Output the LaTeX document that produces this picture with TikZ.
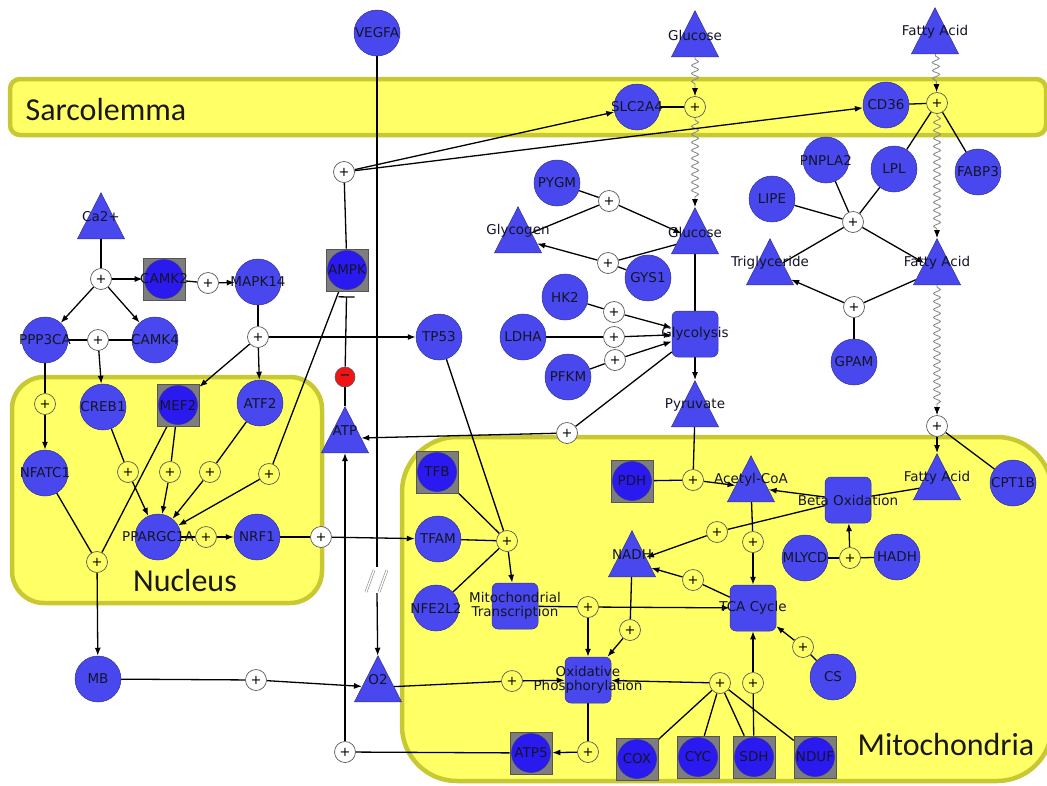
\documentclass[tikz,border=0pt]{standalone}
\usepackage{fontspec}
\setmainfont{DejaVu Sans}
\newfontfamily\compfont{Carlito}
\usetikzlibrary{arrows.meta,shapes.geometric,decorations.pathmorphing}
\pgfdeclarelayer{compartments}
\pgfdeclarelayer{links}
\pgfsetlayers{compartments,links,main}

\definecolor{geneblue}{RGB}{72,72,238}
\definecolor{geneedge}{RGB}{50,50,140}
\definecolor{cplxblue}{RGB}{42,26,240}
\definecolor{cplxgray}{RGB}{125,125,125}
\definecolor{cplxedge}{RGB}{85,85,85}
\definecolor{compfill}{RGB}{255,255,102}
\definecolor{compedge}{RGB}{200,200,50}
\definecolor{labeltext}{RGB}{20,20,40}
\definecolor{inhibred}{RGB}{240,20,20}
\definecolor{plusedge}{RGB}{90,90,90}
\definecolor{wavegray}{RGB}{140,140,140}

\tikzset{
  lbl/.style={font=\fontsize{13.5}{14.5}\selectfont, text=labeltext, align=center, inner sep=0pt},
  gene/.style={circle, fill=geneblue, draw=geneedge, line width=0.5pt, minimum size=46pt,
    inner sep=0pt, label={[lbl]center:{#1}}},
  cplx/.style={rectangle, fill=cplxgray, draw=cplxedge, line width=0.6pt, minimum size=42pt,
    inner sep=0pt,
    path picture={\fill[cplxblue, draw=geneedge, line width=0.5pt]
      (path picture bounding box.center) circle (19.5pt);},
    label={[lbl]center:{#1}}},
  proc/.style={rectangle, rounded corners=6pt, fill=geneblue, draw=geneedge, line width=0.5pt,
    minimum size=46pt, inner sep=0pt, label={[lbl]center:{#1}}},
  chem/.style={isosceles triangle, isosceles triangle stretches, shape border rotate=90,
    minimum width=47pt, minimum height=46pt, inner sep=0pt, fill=geneblue, draw=geneedge,
    line width=0.5pt, anchor=lower side,
    label={[lbl, anchor=center, yshift=22pt]lower side:{#1}}},
  pl/.style={circle, fill=white, draw=plusedge, line width=0.7pt, minimum size=21pt,
    inner sep=0pt, font=\fontsize{13}{13}\selectfont, text=black},
  py/.style={pl, fill=compfill},
  inhib/.style={circle, fill=inhibred, draw=plusedge, line width=0.6pt, minimum size=20pt,
    inner sep=0pt, font=\bfseries\fontsize{13}{13}\selectfont, text=black!85},
  ln/.style={line width=1.3pt, draw=black},
  ar/.style={ln, -{Latex[length=8pt,width=6pt]}},
  wavy/.style={draw=wavegray, line width=0.9pt, decorate,
    decoration={snake, amplitude=3.5pt, segment length=8pt, pre length=2pt, post length=9pt},
    -{Latex[length=8pt,width=6pt,color=black]}},
  inh/.style={ln, -{Bar[width=16pt]}, shorten >=5pt},
  comp/.style={fill=compfill, draw=compedge, line width=4.5pt},
  complbl/.style={font=\compfont\fontsize{32}{34}\selectfont, text=black!90, inner sep=0pt},
  brk/.style={draw=wavegray, line width=0.6pt, double=white, double distance=1.4pt},
}

\begin{document}
\begin{tikzpicture}[x=1pt, y=-1pt]
\useasboundingbox (0,0) rectangle (1047,785);

% ---------- compartments ----------
\begin{pgfonlayer}{compartments}
\begin{scope}
  \clip (0,0) rectangle (1047,785);
  \fill[white] (0,0) rectangle (1047,785);
  \draw[comp, rounded corners=10pt] (10,79) rectangle (1046,135);
  \draw[comp, rounded corners=32pt] (12,377) rectangle (322,603);
  \draw[comp, rounded corners=55pt] (402,437) rectangle (1052,781);
\end{scope}
\end{pgfonlayer}
\node[complbl] (lsarc) at (106,110) {Sarcolemma};
\node[complbl] (lnuc) at (185,580) {Nucleus};
\node[complbl] (lmito) at (946,744) {Mitochondria};

% ---------- reaction points ----------
\node[py] (pg1) at (695,107) {+};
\node[py] (pf1) at (937,103) {+};
\node[pl] (pampk) at (344,172) {+};
\node[pl] (ppygm) at (609,201) {+};
\node[pl] (pgys) at (608,263) {+};
\node[pl] (plip) at (853,222) {+};
\node[pl] (pgpam) at (854,307) {+};
\node[pl] (pcpt) at (937,426) {+};
\node[pl] (phk) at (614,312) {+};
\node[pl] (pld) at (614,337) {+};
\node[pl] (ppf) at (615,360) {+};
\node[pl] (patp) at (567,433) {+};
\node[py] (ppdh) at (693,480) {+};
\node[pl] (pca) at (101,279) {+};
\node[pl] (pcm) at (208,283) {+};
\node[pl] (pmk) at (258,337) {+};
\node[pl] (ppc) at (98,340) {+};
\node[py] (pnf) at (45,404) {+};
\node[py] (pa) at (128,472) {+};
\node[py] (pb) at (170,472) {+};
\node[py] (pc) at (210,472) {+};
\node[py] (pd) at (269,474) {+};
\node[py] (pmb) at (97,562) {+};
\node[py] (pnr) at (206,537) {+};
\node[pl] (ptf) at (321,537) {+};
\node[pl] (po) at (256,680) {+};
\node[pl] (pat) at (345,752) {+};
\node[py] (pmt) at (507,541) {+};
\node[py] (pmt2) at (588,607) {+};
\node[py] (pnadh) at (630,630) {+};
\node[py] (pox) at (512,681) {+};
\node[py] (patp5) at (588,752) {+};
\node[py] (pcx) at (720,683) {+};
\node[py] (psdh) at (753,683) {+};
\node[py] (pcs) at (803,647) {+};
\node[py] (pac) at (753,542) {+};
\node[py] (ptn) at (693,580) {+};
\node[py] (pbn) at (717,532) {+};
\node[py] (pml) at (850,558) {+};
\node[inhib] (minus) at (345,377) {−};

% ---------- small molecules (placed by the middle of their base) ----------
\node[chem=Glucose] (glc0) at (695,57) {};
\node[chem=Fatty Acid] (fa0) at (935,54) {};
\node[chem=Glucose] (glc1) at (695,254) {};
\node[chem=Glycogen] (glycogen) at (518,253) {};
\node[chem=Triglyceride] (trig) at (770,285) {};
\node[chem=Fatty Acid] (fa1) at (937,285) {};
\node[chem=Pyruvate] (pyr) at (695,427) {};
\node[chem=ATP] (atp) at (345,453) {};
\node[chem=Ca2+] (ca) at (101,239) {};
\node[chem=Acetyl-CoA] (acoa) at (751,502) {};
\node[chem=NADH] (nadh) at (632,577) {};
\node[chem=Fatty Acid] (fa2) at (937,500) {};
\node[chem=O2] (o2) at (378,702) {};

% ---------- processes ----------
\node[proc=Glycolysis] (glycolysis) at (695,334) {};
\node[proc=Beta Oxidation] (betaox) at (848,500) {};
\node[proc={Mitochondrial\\Transcription}] (mitotr) at (515,606) {};
\node[proc=TCA Cycle] (tca) at (753,608) {};
\node[proc={Oxidative\\Phosphorylation}] (oxphos) at (588,680) {};

% ---------- complexes ----------
\node[cplx=CAMK2] (camk2) at (164,279) {};
\node[cplx=MEF2] (mef2) at (178,405) {};
\node[cplx=AMPK] (ampk) at (347,270) {};
\node[cplx=TFB] (tfb) at (437,472) {};
\node[cplx=PDH] (pdh) at (632,481) {};
\node[cplx=ATP5] (atp5) at (531,753) {};
\node[cplx=COX] (cox) at (637,759) {};
\node[cplx=CYC] (cyc) at (698,757) {};
\node[cplx=SDH] (sdh) at (754,757) {};
\node[cplx=NDUF] (nduf) at (815,757) {};

% ---------- genes ----------
\node[gene=VEGFA] (vegfa) at (377,33) {};
\node[gene=SLC2A4] (slc) at (637,107) {};
\node[gene=CD36] (cd36) at (886,105) {};
\node[gene=PNPLA2] (pnpla2) at (826,160) {};
\node[gene=LPL] (lpl) at (894,169) {};
\node[gene=FABP3] (fabp3) at (978,172) {};
\node[gene=LIPE] (lipe) at (772,199) {};
\node[gene=PYGM] (pygm) at (557,183) {};
\node[gene=GYS1] (gys1) at (648,278) {};
\node[gene=HK2] (hk2) at (565,297) {};
\node[gene=LDHA] (ldha) at (523,337) {};
\node[gene=PFKM] (pfkm) at (568,377) {};
\node[gene=GPAM] (gpam) at (854,362) {};
\node[gene=CPT1B] (cpt1b) at (1013,483) {};
\node[gene=MAPK14] (mapk14) at (258,282) {};
\node[gene=PPP3CA] (ppp3ca) at (45,340) {};
\node[gene=CAMK4] (camk4) at (155,340) {};
\node[gene=CREB1] (creb1) at (103,407) {};
\node[gene=ATF2] (atf2) at (260,403) {};
\node[gene=NFATC1] (nfatc1) at (45,473) {};
\node[gene=PPARGC1A] (ppargc) at (158,537) {};
\node[gene=NRF1] (nrf1) at (257,537) {};
\node[gene=MB] (mb) at (98,679) {};
\node[gene=TP53] (tp53) at (439,337) {};
\node[gene=TFAM] (tfam) at (438,539) {};
\node[gene=NFE2L2] (nfe2l2) at (436,608) {};
\node[gene=MLYCD] (mlycd) at (805,558) {};
\node[gene=HADH] (hadh) at (897,557) {};
\node[gene=CS] (cs) at (833,677) {};

% break in the VEGFA line
\coordinate (vtop) at (377,567);
\coordinate (vbot) at (377,593);
\coordinate (s1a) at (366,592);
\coordinate (s1b) at (374,570);
\coordinate (s2a) at (379,592);
\coordinate (s2b) at (387,570);

% ---------- connectors ----------
\begin{pgfonlayer}{links}
% transport across the sarcolemma
\draw[wavy] (glc0) -- (pg1);
\draw[ln] (pg1) -- (slc);
\draw[wavy] (pg1) -- (glc1);
\draw[wavy] (fa0) -- (pf1);
\draw[ln] (pf1) -- (cd36);
\draw[ln] (pf1) -- (lpl);
\draw[ln] (pf1) -- (fabp3);
\draw[wavy] (pf1) -- (fa1);
\draw[ln] (ampk) -- (pampk);
\draw[ar] (pampk) -- (slc);
\draw[ar] (pampk) -- (cd36);
% glycogen
\draw[ln] (pygm) -- (ppygm);
\draw[ln] (glycogen) -- (ppygm);
\draw[ar] (ppygm) -- (glc1);
\draw[ln] (glc1) -- (pgys);
\draw[ar] (pgys) -- (glycogen);
\draw[ln] (gys1) -- (pgys);
% lipids
\draw[ln] (pnpla2) -- (plip);
\draw[ln] (lpl) -- (plip);
\draw[ln] (lipe) -- (plip);
\draw[ln] (trig) -- (plip);
\draw[ar] (plip) -- (fa1);
\draw[ln] (fa1) -- (pgpam);
\draw[ar] (pgpam) -- (trig);
\draw[ln] (gpam) -- (pgpam);
\draw[wavy] (fa1) -- (pcpt);
\draw[ln] (cpt1b) -- (pcpt);
\draw[ar] (pcpt) -- (fa2);
% glycolysis
\draw[ln] (glc1) -- (glycolysis);
\draw[ln] (hk2) -- (phk);
\draw[ar] (phk) -- (glycolysis);
\draw[ln] (ldha) -- (pld);
\draw[ar] (pld) -- (glycolysis);
\draw[ln] (pfkm) -- (ppf);
\draw[ar] (ppf) -- (glycolysis);
\draw[ar] (glycolysis) -- (pyr);
\draw[ln] (glycolysis) -- (patp);
\draw[ar] (patp) -- (atp);
\draw[ln] (pyr) -- (ppdh);
\draw[ln] (pdh) -- (ppdh);
\draw[ar] (ppdh) -- (acoa);
% energy sensing
\draw[ln] (atp) -- (minus);
\draw[inh] (minus) -- (ampk);
% calcium signalling
\draw[ln] (ca) -- (pca);
\draw[ar] (pca) -- (camk2);
\draw[ar] (pca) -- (ppp3ca);
\draw[ar] (pca) -- (camk4);
\draw[ln] (camk2) -- (pcm);
\draw[ar] (pcm) -- (mapk14);
\draw[ln] (mapk14) -- (pmk);
\draw[ar] (pmk) -- (mef2);
\draw[ar] (pmk) -- (atf2);
\draw[ar] (pmk) -- (tp53);
\draw[ln] (ppp3ca) -- (ppc);
\draw[ln] (camk4) -- (ppc);
\draw[ar] (ppc) -- (creb1);
\draw[ln] (ppp3ca) -- (pnf);
\draw[ar] (pnf) -- (nfatc1);
% PGC-1alpha
\draw[ln] (creb1) -- (pa);
\draw[ar] (pa) -- (ppargc);
\draw[ln] (mef2) -- (pb);
\draw[ar] (pb) -- (ppargc);
\draw[ln] (atf2) -- (pc);
\draw[ar] (pc) -- (ppargc);
\draw[ln] (ampk) -- (pd);
\draw[ar] (pd) -- (ppargc);
\draw[ln] (nfatc1) -- (pmb);
\draw[ln] (mef2) -- (pmb);
\draw[ar] (pmb) -- (mb);
\draw[ln] (ppargc) -- (pnr);
\draw[ar] (pnr) -- (nrf1);
\draw[ln] (nrf1) -- (ptf);
\draw[ar] (ptf) -- (tfam);
% oxygen
\draw[ln] (mb) -- (po);
\draw[ar] (po) -- (o2);
\draw[ln] (vegfa) -- (vtop);
\draw[ar] (vbot) -- (o2);
\draw[ln] (o2) -- (pox);
\draw[ar] (pox) -- (oxphos);
\draw[ln] (atp5) -- (pat);
\draw[ar] (pat) -- (atp);
% mitochondrial transcription
\draw[ln] (tp53) -- (pmt);
\draw[ln] (tfb) -- (pmt);
\draw[ln] (tfam) -- (pmt);
\draw[ln] (nfe2l2) -- (pmt);
\draw[ar] (pmt) -- (mitotr);
\draw[ln] (mitotr) -- (pmt2);
\draw[ar] (pmt2) -- (oxphos);
\draw[ar] (pmt2) -- (tca);
% oxidative phosphorylation
\draw[ln] (nadh) -- (pnadh);
\draw[ar] (pnadh) -- (oxphos);
\draw[ln] (oxphos) -- (patp5);
\draw[ar] (patp5) -- (atp5);
\draw[ln] (cox) -- (pcx);
\draw[ln] (cyc) -- (pcx);
\draw[ln] (sdh) -- (pcx);
\draw[ln] (nduf) -- (pcx);
\draw[ar] (pcx) -- (oxphos);
% TCA cycle and beta oxidation
\draw[ln] (sdh) -- (psdh);
\draw[ar] (psdh) -- (tca);
\draw[ln] (cs) -- (pcs);
\draw[ar] (pcs) -- (tca);
\draw[ln] (acoa) -- (pac);
\draw[ar] (pac) -- (tca);
\draw[ln] (tca) -- (ptn);
\draw[ar] (ptn) -- (nadh);
\draw[ln] (betaox) -- (pbn);
\draw[ar] (pbn) -- (nadh);
\draw[ar] (betaox) -- (acoa);
\draw[ln] (fa2) -- (betaox);
\draw[ln] (mlycd) -- (pml);
\draw[ln] (hadh) -- (pml);
\draw[ar] (pml) -- (betaox);
\end{pgfonlayer}

% double slash marking the interrupted line
\draw[brk] (s1a) -- (s1b);
\draw[brk] (s2a) -- (s2b);
\end{tikzpicture}
\end{document}
